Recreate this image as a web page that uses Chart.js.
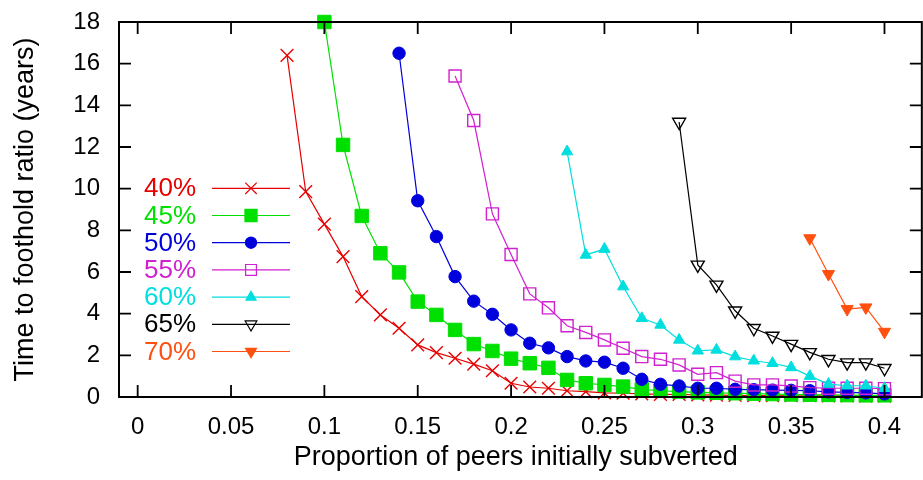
<!DOCTYPE html>
<html>
<head>
<meta charset="utf-8">
<title>Time to foothold ratio</title>
<script src="https://cdn.jsdelivr.net/npm/chart.js@4.4.1/dist/chart.umd.min.js"></script>
<style>
    html, body { margin: 0; padding: 0; background: #fff; overflow: hidden; }
    #wrap { width: 923px; height: 480px; }
</style>
</head>
<body>
<div id="wrap"><canvas id="footholdChart" width="923" height="480"></canvas></div>
<script>
// Proportion of peers initially subverted (shared x grid, every series ends at 0.40)
const proportions = [
    0.08, 0.09, 0.10, 0.11, 0.12, 0.13, 0.14, 0.15, 0.16, 0.17, 0.18,
    0.19, 0.20, 0.21, 0.22, 0.23, 0.24, 0.25, 0.26, 0.27, 0.28, 0.29,
    0.30, 0.31, 0.32, 0.33, 0.34, 0.35, 0.36, 0.37, 0.38, 0.39, 0.40
];

const seriesLabels = ['40%', '45%', '50%', '55%', '60%', '65%', '70%'];

// Time to foothold ratio (years)
const ratio40 = [16.4, 9.86, 8.3, 6.74, 4.82, 3.94, 3.3, 2.5, 2.13, 1.86, 1.58, 1.26, 0.66,
    0.48, 0.42, 0.3, 0.26, 0.2, 0.18, 0.15, 0.13, 0.12, 0.1, 0.09, 0.08, 0.07, 0.07, 0.06,
    0.06, 0.05, 0.05, 0.04, 0.04];
const ratio45 = [18, 12.1, 8.69, 6.9, 5.98, 4.58, 3.94, 3.22, 2.54, 2.21, 1.84, 1.62, 1.4,
    0.82, 0.66, 0.58, 0.5, 0.37, 0.3, 0.26, 0.22, 0.2, 0.18, 0.16, 0.14, 0.12, 0.11, 0.1,
    0.09, 0.08, 0.08];
const ratio50 = [16.5, 9.42, 7.7, 5.78, 4.6, 3.97, 3.22, 2.58, 2.36, 1.94, 1.73, 1.67, 1.38,
    0.85, 0.61, 0.53, 0.42, 0.42, 0.37, 0.35, 0.33, 0.32, 0.3, 0.25, 0.22, 0.2, 0.15];
const ratio55 = [15.41, 13.27, 8.79, 6.84, 4.95, 4.28, 3.42, 3.1, 2.74, 2.34, 1.94, 1.81,
    1.54, 1.09, 1.17, 0.76, 0.58, 0.58, 0.53, 0.45, 0.42, 0.42, 0.42, 0.4];
const ratio60 = [11.78, 6.82, 7.1, 5.3, 3.78, 3.46, 2.74, 2.22, 2.26, 1.94, 1.74, 1.62, 1.42,
    1.0, 0.62, 0.54, 0.54, 0.42];
const ratio65 = [13.2, 6.34, 5.38, 4.14, 3.3, 2.93, 2.54, 2.14, 1.81, 1.65, 1.65, 1.38];
const ratio70 = [7.62, 5.9, 4.22, 4.3, 3.13];

const xTicks = [0, 0.05, 0.1, 0.15, 0.2, 0.25, 0.3, 0.35, 0.4];
const yTicks = [0, 2, 4, 6, 8, 10, 12, 14, 16, 18];

// the original x range runs to 0.42, its right border falls just outside the picture
const xFrameMax = 0.42;

// gnuplot-like line/point styles
const seriesStyles = [
    { color: '#e60000', pointStyle: 'crossRot', radius: 9, filled: false, rotation: 0 },
    { color: '#00e000', pointStyle: 'rect', radius: 9.5, filled: true, rotation: 0 },
    { color: '#0000dd', pointStyle: 'circle', radius: 6.2, filled: true, rotation: 0 },
    { color: '#d020d0', pointStyle: 'rect', radius: 8.5, filled: false, rotation: 0 },
    { color: '#00dede', pointStyle: 'triangle', radius: 6.5, filled: true, rotation: 0 },
    { color: '#000000', pointStyle: 'triangle', radius: 7.5, filled: false, rotation: 180 },
    { color: '#ff5010', pointStyle: 'triangle', radius: 7, filled: true, rotation: 180 }
];

const allSeries = [ratio40, ratio45, ratio50, ratio55, ratio60, ratio65, ratio70];

function toPoints(values) {
    const xs = proportions.slice(proportions.length - values.length);
    return values.map((v, i) => ({ x: xs[i], y: v }));
}

const datasets = allSeries.map((values, i) => {
    const s = seriesStyles[i];
    return {
        label: seriesLabels[i],
        data: toPoints(values),
        borderColor: s.color,
        backgroundColor: s.color,
        borderWidth: 1.2,
        pointStyle: s.pointStyle,
        pointRadius: s.radius,
        pointHoverRadius: s.radius,
        pointRotation: s.rotation,
        pointBorderColor: s.color,
        pointBackgroundColor: s.filled ? s.color : 'rgba(0,0,0,0)',
        pointBorderWidth: s.filled ? 1 : 1.4,
        tension: 0,
        fill: false,
        clip: false,
        order: allSeries.length - i
    };
});

const FONT = '"Liberation Sans", Helvetica, Arial, sans-serif';

// keep the plot frame fixed: tick labels must not push the chart area around
function noLabelPadding(scale) {
    scale.paddingTop = 0;
    scale.paddingBottom = 0;
    scale.paddingLeft = 0;
    scale.paddingRight = 0;
}

// frame with inward, mirrored ticks like gnuplot
const frameTicks = {
    id: 'frameTicks',
    afterDatasetsDraw(chart) {
        const { ctx, chartArea: a, scales } = chart;
        const len = 12;
        const right = scales.x.getPixelForValue(xFrameMax);
        ctx.save();
        ctx.strokeStyle = '#000';
        ctx.lineWidth = 1.8;
        ctx.beginPath();
        xTicks.forEach(v => {
            const px = scales.x.getPixelForValue(v);
            ctx.moveTo(px, a.bottom); ctx.lineTo(px, a.bottom - len);
            ctx.moveTo(px, a.top); ctx.lineTo(px, a.top + len);
        });
        yTicks.forEach(v => {
            const py = scales.y.getPixelForValue(v);
            ctx.moveTo(a.left, py); ctx.lineTo(a.left + len, py);
            ctx.moveTo(right, py); ctx.lineTo(right - len, py);
        });
        ctx.stroke();
        ctx.lineWidth = 2;
        ctx.strokeRect(a.left, a.top, right - a.left, a.bottom - a.top);
        ctx.restore();
    }
};

// key on the left: label, then line sample with marker
const keyBox = {
    id: 'keyBox',
    afterDraw(chart) {
        const ctx = chart.ctx;
        ctx.save();
        ctx.font = '26px ' + FONT;
        ctx.textAlign = 'right';
        ctx.textBaseline = 'middle';
        chart.data.datasets.forEach((ds, i) => {
            const s = seriesStyles[i];
            const y = 188.3 + i * 27.2;
            ctx.fillStyle = s.color;
            ctx.fillText(ds.label, 196, y + 1);
            ctx.strokeStyle = s.color;
            ctx.lineWidth = 1.2;
            ctx.beginPath();
            ctx.moveTo(212, y);
            ctx.lineTo(290, y);
            ctx.stroke();
            ctx.fillStyle = s.filled ? s.color : 'rgba(0,0,0,0)';
            if (Chart.helpers && Chart.helpers.drawPoint) {
                Chart.helpers.drawPoint(ctx, {
                    pointStyle: s.pointStyle,
                    rotation: s.rotation,
                    radius: s.radius * 0.9,
                    borderWidth: s.filled ? 1 : 1.4
                }, 251, y);
            }
        });
        ctx.restore();
    }
};

new Chart(document.getElementById('footholdChart'), {
    type: 'line',
    data: { datasets: datasets },
    options: {
        responsive: false,
        animation: false,
        events: [],
        layout: { padding: { top: 22, right: 2, left: 0, bottom: 0 } },
        plugins: {
            legend: { display: false },
            tooltip: { enabled: false }
        },
        scales: {
            x: {
                type: 'linear',
                min: -0.01,
                max: 0.415,
                afterBuildTicks: scale => { scale.ticks = xTicks.map(v => ({ value: v })); },
                afterFit: scale => { scale.height = 83; noLabelPadding(scale); },
                grid: { display: false, drawTicks: false },
                border: { display: false },
                ticks: {
                    padding: 16,
                    color: '#000',
                    font: { family: FONT, size: 24 },
                    maxRotation: 0,
                    autoSkip: false,
                    callback: v => String(v)
                },
                title: {
                    display: true,
                    text: 'Proportion of peers initially subverted',
                    color: '#000',
                    font: { family: FONT, size: 27 },
                    padding: { top: 0, bottom: 6 }
                }
            },
            y: {
                type: 'linear',
                min: 0,
                max: 18,
                afterBuildTicks: scale => { scale.ticks = yTicks.map(v => ({ value: v })); },
                afterFit: scale => { scale.width = 119; noLabelPadding(scale); },
                grid: { display: false, drawTicks: false },
                border: { display: false },
                ticks: {
                    padding: 19,
                    color: '#000',
                    font: { family: FONT, size: 24 },
                    autoSkip: false,
                    callback: v => String(v)
                },
                title: {
                    display: true,
                    text: 'Time to foothold ratio (years)',
                    color: '#000',
                    font: { family: FONT, size: 27 },
                    padding: { top: 9, bottom: 0 }
                }
            }
        }
    },
    plugins: [frameTicks, keyBox]
});
</script>
</body>
</html>
